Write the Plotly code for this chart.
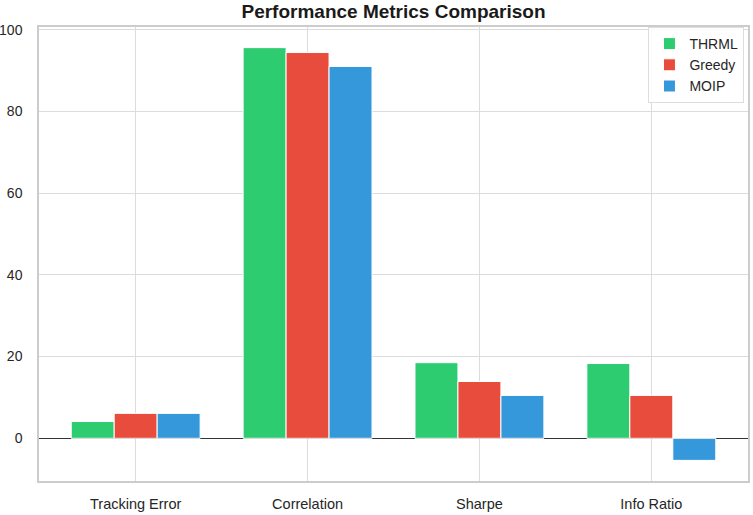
import plotly.graph_objects as go

categories = ["Tracking Error", "Correlation", "Sharpe", "Info Ratio"]
thrml = [4.1, 95.6, 18.5, 18.3]
greedy = [6.1, 94.4, 13.9, 10.5]
moip = [6.1, 91.0, 10.5, -5.4]
series_names = ["THRML", "Greedy", "MOIP"]
colors = ["#2ecc71", "#e74c3c", "#3498db"]
y_ticks = [0, 20, 40, 60, 80, 100]

fig = go.Figure()
for name, vals, col in zip(series_names, [thrml, greedy, moip], colors):
    fig.add_trace(go.Bar(
        x=list(range(len(categories))), y=vals, name=name,
        marker=dict(color=col, line=dict(color="white", width=1)),
        width=0.25,
    ))

fig.update_layout(
    width=753, height=515,
    barmode="group", bargap=0.25, bargroupgap=0,
    paper_bgcolor="white", plot_bgcolor="white",
    margin=dict(l=39, r=5, t=27, b=34, autoexpand=False),
    font=dict(family="Liberation Sans, Arial, sans-serif", size=14, color="#262626"),
    title=dict(text="<b>Performance Metrics Comparison</b>", x=0.5, xref="paper",
               xanchor="center", y=1 - 11.5 / 515, yref="container", yanchor="middle",
               font=dict(size=19, color="#1a1a1a")),
    showlegend=True,
    legend=dict(x=0.995, y=1.0, xanchor="right", yanchor="top",
                bgcolor="rgba(255,255,255,0.85)", bordercolor="#dddddd", borderwidth=1,
                font=dict(size=14, color="#262626"), itemwidth=30,
                tracegroupgap=2),
    xaxis=dict(
        range=[-0.5625, 3.5625], tickmode="array",
        tickvals=list(range(len(categories))), ticktext=categories,
        tickfont=dict(size=14.5),
        showgrid=True, gridcolor="#dcdcdc", gridwidth=1,
        showline=True, linecolor="#cccccc", linewidth=1.5, mirror=True,
        zeroline=False, ticks="", ticklabelstandoff=9, automargin=False,
    ),
    yaxis=dict(
        range=[-10.45, 100.65], tickmode="array", tickvals=y_ticks,
        tickfont=dict(size=14),
        showgrid=True, gridcolor="#dcdcdc", gridwidth=1,
        showline=True, linecolor="#cccccc", linewidth=1.5, mirror=True,
        zeroline=True, zerolinecolor="#333333", zerolinewidth=1,
        ticks="", ticklabelstandoff=12, automargin=False,
    ),
)

fig.write_html("out.html", config={"displayModeBar": False},
               post_script="document.body.style.margin='0';document.body.style.overflow='hidden';")
